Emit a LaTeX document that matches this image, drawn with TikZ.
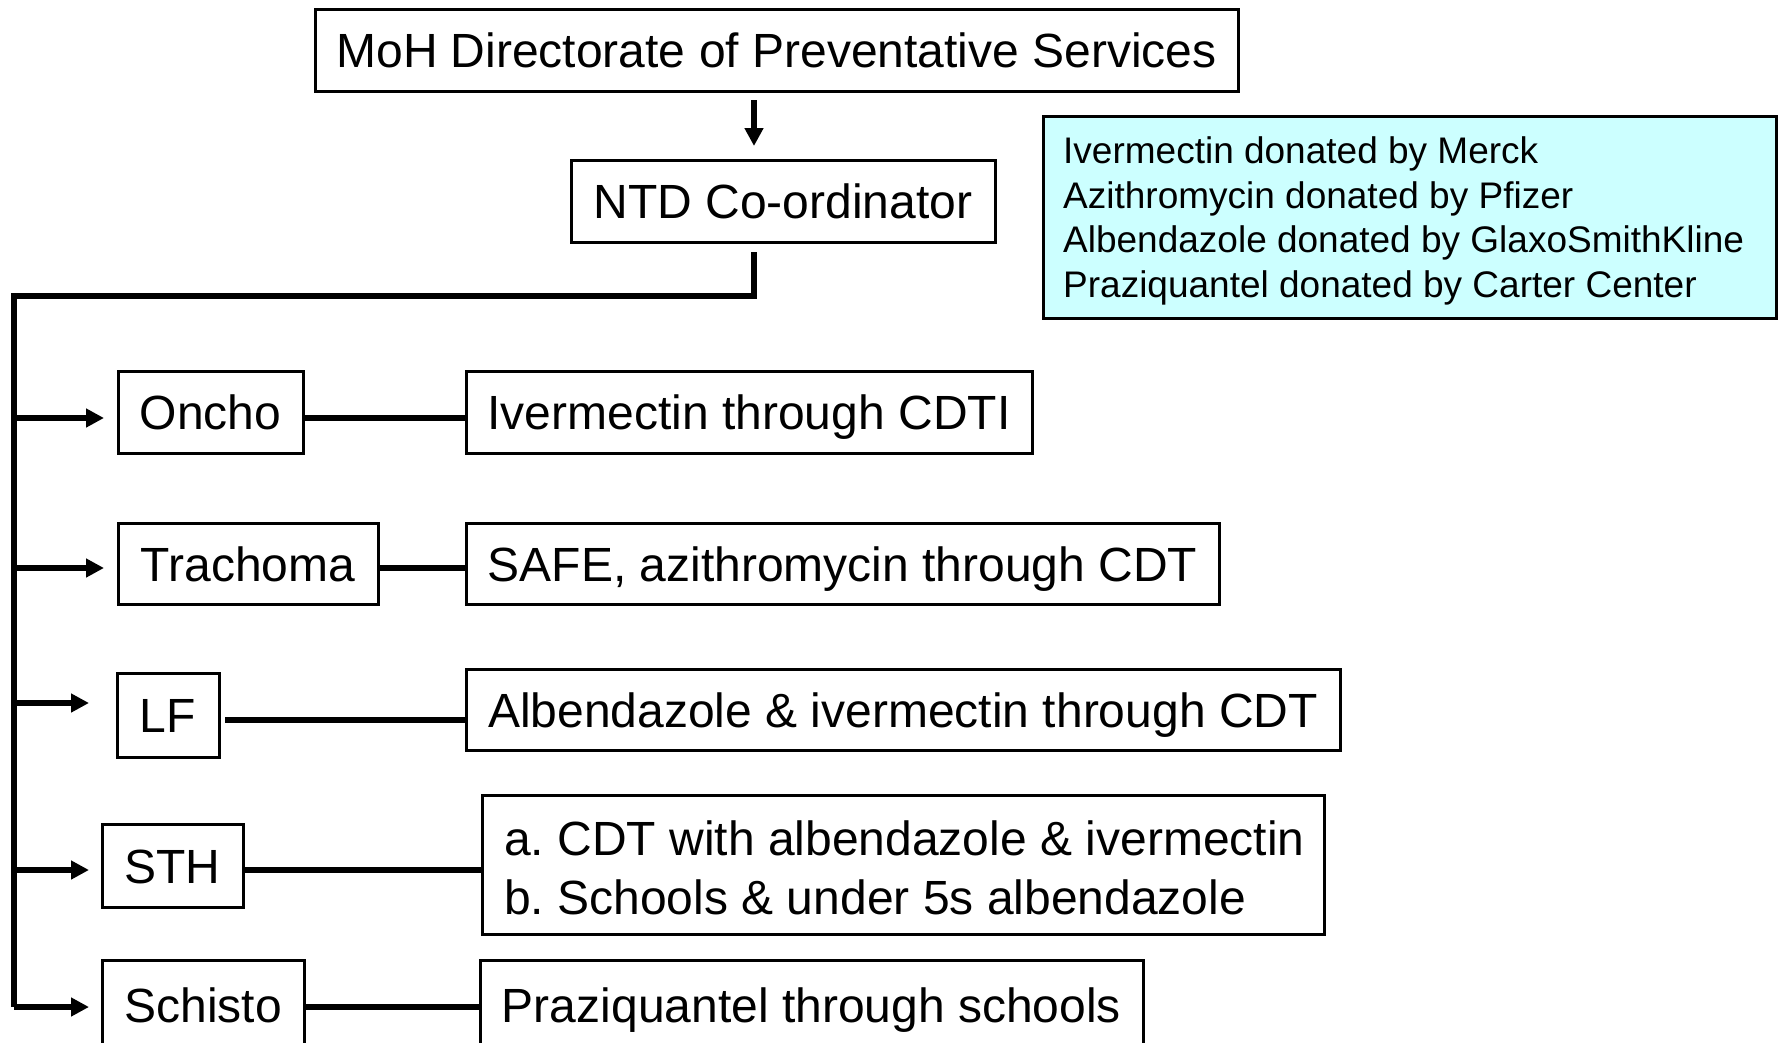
\documentclass[tikz,border=0pt]{standalone}
\usepackage{fontspec}
\setmainfont{Liberation Sans}
\usetikzlibrary{arrows.meta}
\definecolor{legendfill}{HTML}{CCFFFF}
\frenchspacing
\tikzset{
  box/.style={draw=black, line width=3pt, inner sep=0pt, align=center,
    text height=35pt, text depth=0pt,
    font=\fontsize{48}{59}\selectfont},
  txt/.style={inner sep=0pt, font=\fontsize{48}{59}\selectfont},
  conn/.style={line width=5.5pt},
  arr/.style={line width=5.5pt, -{Triangle[length=18pt,width=18pt]}},
  legend/.style={draw=black, line width=3pt, fill=legendfill, inner sep=0pt}
}
\begin{document}
\begin{tikzpicture}[x=1pt,y=-1pt]
\useasboundingbox (0,0) rectangle (1781,1042);
\clip (0,0) rectangle (1781,1042);
\fill[white] (0,0) rectangle (1781,1042);
% top
\node[box, minimum width=923pt, minimum height=82pt] (moh) at (776.5,50) {MoH Directorate of Preventative Services};
\node[box, minimum width=424pt, minimum height=82pt] (ntd) at (783,201) {NTD Co-ordinator};
\coordinate (a1) at (754,100);
\coordinate (a2) at (754,146);
\draw[arr] (a1) -- (a2);
% legend
\node[legend, minimum width=733pt, minimum height=202pt, anchor=north west] (leg) at (1042,115) {};
\node[font=\fontsize{37}{44.5}\selectfont, align=left, anchor=west, inner sep=0pt] (legtext) at (1063,221)
 {Ivermectin donated by Merck\\Azithromycin donated by Pfizer\\Albendazole donated by GlaxoSmithKline\\Praziquantel donated by Carter Center};
% trunk
\coordinate (t0) at (754,252);
\coordinate (t1) at (754,296);
\coordinate (t2) at (14,296);
\coordinate (t3) at (14,1007);
\draw[conn, line join=miter] (t0) -- (t1) -- (t2) -- (t3);
% disease boxes
\node[box, minimum width=185pt, minimum height=82pt] (oncho) at (210.5,412) {Oncho};
\node[box, minimum width=260pt, minimum height=81pt] (trach) at (248,563.5) {Trachoma};
\node[box, minimum width=102pt, minimum height=84pt] (lf) at (168,715) {LF};
\node[box, minimum width=141pt, minimum height=83pt] (sth) at (172.5,865.5) {STH};
\node[box, minimum width=202pt, minimum height=90pt] (schisto) at (203,1005) {Schisto};
% treatment boxes
\node[box, minimum width=566pt, minimum height=82pt] (ivm) at (749,412) {Ivermectin through CDTI};
\node[box, minimum width=753pt, minimum height=81pt] (safe) at (842.5,563.5) {SAFE, azithromycin through CDT};
\node[box, minimum width=874pt, minimum height=81pt] (alb) at (903,709.5) {Albendazole \& ivermectin through CDT};
\node[box, minimum width=842pt, minimum height=139pt] (cdt) at (903,864.5) {};
\node[txt, anchor=base west] (cdta) at (504,855) {a. CDT with albendazole \& ivermectin};
\node[txt, anchor=base west] (cdtb) at (504,914) {b. Schools \& under 5s albendazole};
\node[box, minimum width=663pt, minimum height=90pt] (praz) at (811.5,1005) {Praziquantel through schools};
% branch arrows
\coordinate (b1) at (14,418);
\coordinate (b2) at (14,568);
\coordinate (b3) at (14,703);
\coordinate (b4) at (14,870);
\coordinate (b5) at (14,1007);
\draw[arr] (b1) -- (104,418);
\draw[arr] (b2) -- (104,568);
\draw[arr] (b3) -- (89,703);
\draw[arr] (b4) -- (89,870);
\draw[arr] (b5) -- (89,1007);
% links
\draw[conn] (oncho.east |- 0,418) -- (ivm.west |- 0,418);
\draw[conn] (trach.east |- 0,568) -- (safe.west |- 0,568);
\coordinate (lfs) at (225,720);
\draw[conn] (lfs) -- (alb.west |- 0,720);
\draw[conn] (sth.east |- 0,870) -- (cdt.west |- 0,870);
\draw[conn] (schisto.east |- 0,1007) -- (praz.west |- 0,1007);
\end{tikzpicture}
\end{document}
